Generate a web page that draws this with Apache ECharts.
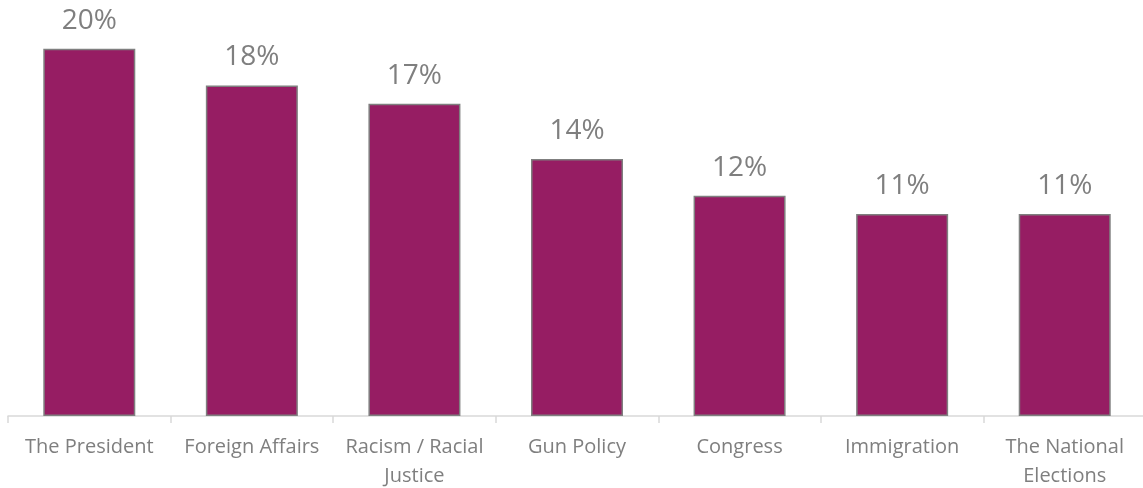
<!DOCTYPE html>
<html><head><meta charset="utf-8">
<script src="https://cdn.jsdelivr.net/npm/echarts@6/dist/echarts.min.js"></script>
<style>html,body{margin:0;padding:0;background:#fff}#c{width:1143px;height:488px}</style>
</head><body><div id="c"></div>
<script>
const categories = ['The President', 'Foreign Affairs', 'Racism / Racial\nJustice', 'Gun Policy', 'Congress', 'Immigration', 'The National\nElections'];
const values = [20, 18, 17, 14, 12, 11, 11];
const chart = echarts.init(document.getElementById('c'));
chart.setOption({
  animation: false,
  grid: { left: 8, top: 12, width: 1138, height: 404, containLabel: false, outerBoundsMode: 'none' },
  xAxis: {
    type: 'category', data: categories,
    axisLine: { lineStyle: { color: '#d9d9d9', width: 1.5 } },
    axisTick: { show: true, length: 7, lineStyle: { color: '#d9d9d9', width: 1.5 } },
    axisLabel: { color: '#7f7f7f', fontFamily: 'Open Sans', fontSize: 20, margin: 17, lineHeight: 29, interval: 0 }
  },
  yAxis: { type: 'value', min: 0, max: 22, show: false, splitLine: { show: false } },
  series: [{
    type: 'bar', data: values, barWidth: 92,
    itemStyle: { color: '#961D63', borderColor: '#7f7f7f', borderWidth: 1.5 },
    label: { show: true, position: 'top', formatter: '{c}%', color: '#7f7f7f', fontFamily: 'Open Sans', fontSize: 28, distance: 14 }
  }]
});
</script></body></html>
